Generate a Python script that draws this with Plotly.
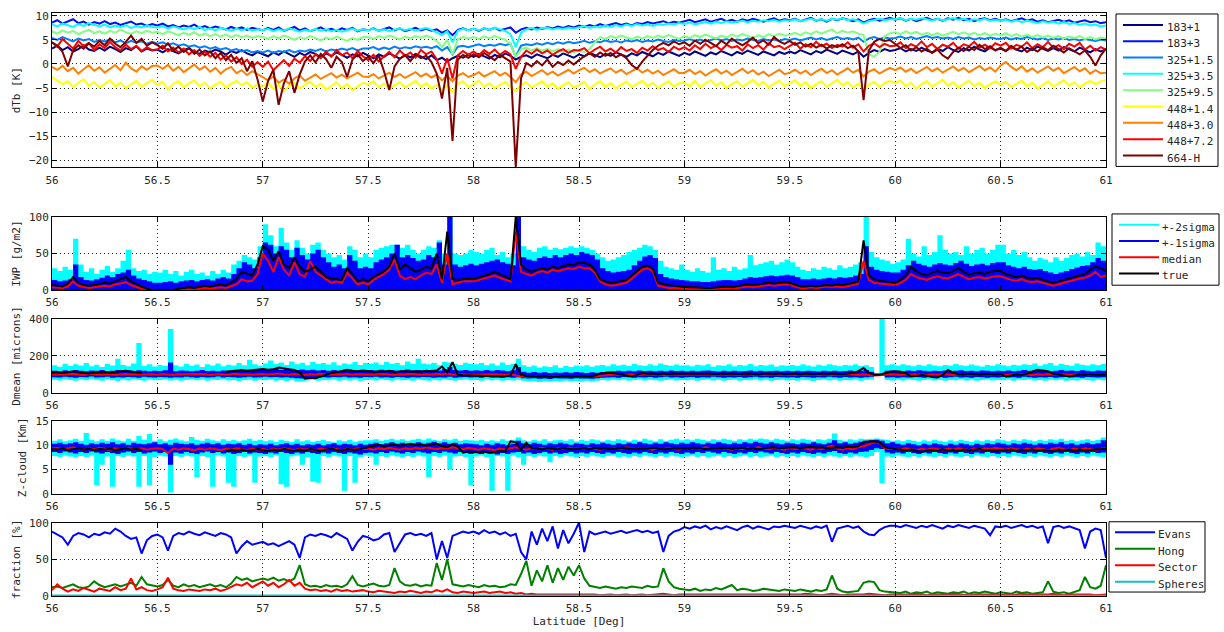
import numpy as np
import plotly.graph_objects as go

LAT_MIN, LAT_MAX = 56.0, 61.0
FONT = "DejaVu Sans Mono"

# ---------------- brightness temperature departures [K] ----------------
ch_names = ["183+1", "183+3", "325+1.5", "325+3.5", "325+9.5",
            "448+1.4", "448+3.0", "448+7.2", "664-H"]
ch_colors = ["#000080", "#0010FF", "#0080FF", "#00FFFF", "#80FF80",
             "#FFFF00", "#FF8000", "#FF0000", "#800000"]

dtb_183_1 = [
    3.2, 3.8, 2.9, 3.5, 2.6, 3.1, 3.9, 3.0, 2.7, 3.4, 2.8, 3.6, 3.1, 2.5, 3.3, 2.9, 3.7, 2.6, 3.2, 2.8,
    3.0, 2.4, 3.1, 2.7, 2.2, 2.9, 3.3, 2.5, 2.1, 2.8, 2.4, 3.0, 2.6, 1.9, 2.7, 2.3, 2.9, 2.2, 1.8, 2.5,
    2.1, 1.6, 2.4, 1.9, 2.6, 2.0, 1.5, 2.3, 1.8, 2.5, 2.1, 1.4, 2.2, 1.7, 2.4, 1.9, 1.3, 2.0, 1.6, 2.3,
    1.8, 1.2, 2.0, 1.5, 2.2, 1.6, 1.1, 1.9, 1.4, 2.1, 1.5, 1.0, 1.8, 0.8, 1.3, 0.5, 1.2, 1.7, 1.3, 2.0,
    1.5, 2.1, 1.6, 1.1, 1.9, 1.4, 2.2, 1.7, 0.9, 1.5, 1.8, 1.3, 2.0, 1.6, 1.2, 1.9, 1.5, 2.2, 1.7, 1.3,
    2.0, 1.6, 2.3, 1.8, 1.4, 2.1, 1.7, 2.4, 1.9, 1.5, 2.2, 1.8, 2.5, 2.0, 1.6, 2.3, 1.9, 2.6, 2.1, 1.7,
    2.3, 1.9, 2.6, 2.1, 1.7, 2.4, 2.0, 2.7, 2.2, 1.8, 2.5, 2.1, 2.8, 2.3, 1.9, 2.6, 2.2, 1.8, 2.5, 2.1,
    2.6, 2.2, 2.9, 2.4, 2.0, 2.7, 2.3, 3.0, 2.5, 2.1, 2.8, 2.4, 2.0, 2.6, 1.5, 2.3, 2.9, 2.5, 3.1, 2.7,
    2.9, 3.3, 2.6, 3.1, 2.7, 3.4, 2.8, 2.4, 3.2, 2.7, 3.5, 2.9, 2.5, 3.3, 2.8, 3.6, 3.0, 2.6, 3.4, 2.9,
    3.2, 2.7, 3.5, 3.0, 2.6, 3.4, 2.9, 3.6, 3.1, 2.7, 3.3, 2.8, 3.5, 3.0, 2.6, 3.4, 2.9, 2.4, 3.1, 2.6,
    3.0]
dtb_183_3 = [
    8.6, 9.1, 8.4, 8.9, 9.3, 8.5, 8.8, 8.2, 8.7, 8.4, 8.9, 8.3, 8.6, 8.1, 8.5, 8.8, 8.2, 8.4, 7.9, 8.3,
    8.0, 8.4, 7.8, 8.1, 7.6, 8.0, 7.7, 8.2, 7.5, 7.9, 7.4, 7.8, 7.5, 7.2, 7.7, 7.3, 7.6, 7.1, 7.5, 7.2,
    7.0, 7.5, 7.1, 7.6, 6.9, 7.3, 7.7, 7.0, 7.4, 6.8, 7.2, 7.6, 7.0, 7.3, 6.9, 7.4, 7.1, 7.5, 6.8, 7.2,
    7.0, 7.4, 6.9, 7.3, 7.6, 7.0, 7.4, 6.8, 7.2, 7.5, 7.0, 7.3, 6.9, 7.2, 6.5, 7.0, 6.0, 7.1, 7.4, 7.0,
    7.3, 6.9, 7.4, 7.1, 7.5, 7.0, 7.3, 7.6, 6.5, 7.2, 7.5, 7.2, 7.6, 7.3, 7.7, 7.4, 7.8, 7.5, 7.9, 7.6,
    8.0, 7.7, 8.1, 7.8, 8.3, 7.9, 8.2, 8.5, 8.1, 8.4, 8.0, 8.5, 8.3, 8.7, 8.4, 8.6, 8.9, 8.5, 8.8, 8.6,
    8.9, 9.2, 8.7, 9.0, 9.3, 8.8, 9.1, 9.4, 8.9, 9.2, 8.8, 9.3, 9.0, 9.4, 9.1, 8.8, 9.2, 9.5, 9.0, 9.3,
    9.1, 9.4, 8.9, 9.3, 9.6, 9.0, 9.3, 8.8, 9.4, 9.1, 9.5, 9.2, 8.9, 9.3, 8.6, 9.1, 9.4, 9.0, 9.3, 9.6,
    9.2, 9.5, 9.0, 9.4, 8.9, 9.3, 9.6, 9.1, 9.4, 9.0, 9.5, 9.2, 9.6, 9.1, 9.4, 8.9, 9.3, 9.5, 9.1, 9.4,
    9.0, 9.3, 8.9, 9.2, 9.5, 9.0, 9.3, 8.8, 9.1, 8.7, 9.0, 9.2, 8.8, 9.1, 8.6, 8.9, 9.1, 8.7, 8.9, 8.5,
    8.7]
dtb_325_1p5 = [
    5.4, 5.0, 5.6, 5.1, 4.7, 5.3, 4.9, 5.2, 4.6, 5.0, 4.7, 5.1, 4.5, 4.9, 4.3, 4.8, 4.4, 4.7, 4.2, 4.6,
    4.2, 4.5, 4.0, 4.3, 3.8, 4.1, 3.6, 3.9, 3.4, 3.7, 3.2, 3.5, 3.0, 3.3, 2.8, 3.1, 2.6, 2.9, 2.4, 2.7,
    2.4, 2.8, 2.3, 2.7, 2.5, 2.9, 2.4, 2.8, 2.6, 3.0, 2.7, 3.1, 2.6, 3.0, 2.8, 3.2, 2.9, 3.3, 2.8, 3.2,
    3.2, 3.5, 3.0, 3.4, 3.1, 3.6, 3.2, 3.5, 3.3, 3.7, 3.4, 3.6, 3.3, 3.7, 2.8, 3.5, 2.0, 3.6, 3.8, 3.5,
    3.8, 4.1, 3.7, 4.0, 3.8, 4.2, 3.9, 4.2, 1.5, 3.8, 4.1, 3.9, 4.3, 4.0, 4.4, 4.1, 4.5, 4.2, 4.6, 4.3,
    4.5, 4.8, 4.4, 4.7, 4.5, 4.9, 4.6, 4.8, 4.5, 4.9, 4.7, 5.0, 4.6, 4.9, 4.7, 5.1, 4.8, 4.6, 5.0, 4.8,
    4.9, 5.2, 4.8, 5.1, 4.7, 5.0, 5.3, 4.9, 5.2, 4.8, 5.1, 4.9, 5.3, 5.0, 4.8, 5.2, 4.9, 5.1, 4.8, 5.2,
    5.0, 5.3, 4.9, 5.2, 5.5, 5.1, 5.4, 5.0, 5.3, 5.6, 5.2, 5.4, 5.1, 5.5, 4.6, 5.3, 5.6, 5.2, 5.5, 5.3,
    5.4, 5.7, 5.3, 5.6, 5.2, 5.5, 5.8, 5.4, 5.6, 5.3, 5.5, 5.2, 5.6, 5.3, 5.5, 5.1, 5.4, 5.2, 5.5, 5.3,
    5.2, 5.5, 5.1, 5.4, 5.2, 5.6, 5.3, 5.1, 5.4, 5.0, 5.3, 5.1, 5.4, 5.0, 5.2, 4.9, 5.2, 5.0, 4.8, 5.1,
    4.9]
dtb_325_3p5 = [
    8.2, 7.8, 8.4, 8.0, 7.7, 8.3, 7.9, 8.5, 8.1, 7.8, 8.2, 7.6, 8.0, 7.7, 8.1, 7.5, 7.9, 7.6, 8.0, 7.7,
    7.6, 7.9, 7.4, 7.8, 7.5, 7.2, 7.6, 7.3, 7.7, 7.1, 7.4, 7.0, 7.5, 7.2, 6.9, 7.3, 7.0, 7.4, 6.9, 7.2,
    7.0, 7.3, 6.8, 7.2, 6.9, 7.4, 7.0, 6.7, 7.1, 6.8, 7.3, 6.9, 7.2, 6.8, 7.1, 6.7, 7.0, 7.3, 6.9, 7.2,
    7.0, 7.3, 6.9, 7.2, 6.8, 7.1, 7.4, 7.0, 7.3, 6.9, 7.2, 7.5, 7.1, 6.6, 6.0, 6.8, 4.5, 6.9, 7.3, 7.0,
    7.3, 7.0, 7.4, 7.1, 7.5, 7.2, 6.9, 6.2, 3.5, 6.5, 7.2, 7.5, 7.1, 7.4, 7.6, 7.2, 7.5, 7.3, 7.6, 7.4,
    7.6, 7.9, 7.5, 7.8, 7.6, 8.0, 7.7, 8.1, 7.8, 8.2, 7.9, 8.3, 8.0, 8.2, 7.9, 8.3, 8.1, 8.4, 8.2, 8.5,
    8.3, 8.6, 8.2, 8.5, 8.7, 8.4, 8.8, 8.5, 8.9, 8.6, 8.8, 9.0, 8.7, 9.0, 8.8, 9.1, 8.9, 9.2, 8.8, 9.1,
    9.0, 9.3, 8.9, 9.2, 9.4, 9.1, 9.3, 9.0, 9.4, 9.2, 9.5, 9.1, 9.3, 9.0, 8.4, 8.9, 9.2, 9.4, 9.1, 9.3,
    9.3, 9.5, 9.1, 9.4, 9.2, 9.5, 9.3, 9.0, 9.4, 9.1, 9.3, 9.5, 9.2, 9.4, 9.0, 9.3, 9.1, 9.4, 9.0, 9.2,
    9.0, 9.2, 8.8, 9.1, 8.7, 9.0, 8.8, 8.5, 8.9, 8.6, 8.8, 8.4, 8.7, 8.3, 8.5, 8.1, 8.4, 8.0, 8.2, 7.8,
    8.0]
dtb_325_9p5 = [
    6.8, 6.3, 7.0, 6.5, 6.9, 6.2, 6.7, 7.1, 6.4, 6.8, 6.3, 6.9, 6.5, 7.2, 6.6, 6.3, 6.8, 6.4, 6.9, 6.5,
    6.7, 6.2, 6.8, 6.4, 6.0, 6.5, 6.1, 6.6, 5.9, 6.3, 5.8, 6.2, 5.7, 6.1, 5.6, 6.0, 5.5, 5.9, 5.4, 5.8,
    5.6, 5.2, 5.8, 5.3, 5.9, 5.5, 5.0, 5.6, 5.2, 5.8, 5.4, 4.9, 5.5, 5.1, 5.7, 5.3, 4.8, 5.4, 5.0, 5.6,
    5.6, 5.2, 5.8, 5.4, 5.9, 5.5, 5.1, 5.7, 5.3, 5.8, 5.4, 5.9, 5.5, 4.8, 3.5, 5.0, 2.0, 5.2, 5.6, 5.3,
    5.6, 5.2, 5.7, 5.3, 5.8, 5.4, 5.0, 4.2, 1.5, 3.0, 3.4, 2.8, 3.3, 2.7, 3.2, 2.6, 3.1, 2.5, 3.0, 2.4,
    2.9, 2.5, 3.1, 4.5, 5.6, 5.2, 5.8, 5.4, 5.9, 5.5, 5.1, 5.7, 5.3, 5.8, 5.4, 5.9, 5.5, 6.0, 5.6, 5.2,
    5.8, 5.4, 6.0, 5.6, 6.1, 5.7, 5.3, 5.9, 5.5, 6.1, 5.7, 6.2, 5.8, 5.4, 6.0, 5.6, 6.2, 5.8, 6.3, 5.9,
    6.1, 6.5, 6.0, 6.6, 6.2, 6.8, 6.3, 6.7, 7.2, 6.4, 6.9, 6.5, 6.8, 6.3, 6.0, 2.0, 1.5, 2.5, 5.8, 6.4,
    6.6, 6.2, 6.8, 6.3, 6.7, 6.1, 6.5, 6.0, 6.4, 5.9, 6.3, 6.7, 6.2, 6.6, 6.1, 6.5, 6.0, 6.4, 5.9, 6.3,
    6.0, 6.4, 5.8, 6.2, 5.7, 6.1, 5.6, 6.0, 5.5, 5.9, 5.4, 5.8, 5.3, 5.7, 5.4, 5.8, 5.2, 5.6, 5.1, 5.5,
    5.3]
dtb_448_1p4 = [
    -2.7, -3.5, -4.2, -3.6, -4.8, -3.9, -3.2, -4.5, -3.8, -4.9, -4.1, -3.4, -4.6, -3.9, -5.0, -4.2, -3.5, -4.7, -4.0, -3.3,
    -4.4, -3.7, -5.3, -4.1, -3.6, -4.8, -4.0, -3.4, -4.6, -3.9, -5.1, -4.3, -3.7, -4.9, -4.1, -3.5, -4.4, -3.8, -4.9, -4.2,
    -4.7, -3.9, -5.2, -4.4, -5.6, -4.6, -3.9, -5.1, -4.3, -3.7, -4.8, -4.1, -5.3, -4.5, -3.8, -5.0, -4.2, -5.4, -4.6, -3.9,
    -4.3, -3.6, -4.8, -4.1, -5.2, -4.4, -3.8, -4.9, -4.2, -3.5, -4.7, -4.0, -5.1, -4.3, -5.5, -4.4, -5.8, -4.1, -3.6, -4.8,
    -4.2, -3.5, -4.7, -4.0, -5.0, -4.3, -3.7, -4.8, -5.6, -4.4, -3.8, -4.9, -4.2, -3.6, -4.7, -4.0, -5.2, -4.4, -3.8, -4.9,
    -4.4, -3.7, -5.3, -4.2, -3.6, -4.7, -4.0, -5.1, -4.3, -3.7, -4.8, -4.1, -3.5, -4.6, -3.9, -5.0, -4.2, -3.6, -4.7, -4.0,
    -3.9, -4.6, -3.5, -4.8, -4.0, -3.4, -4.5, -3.8, -5.0, -4.2, -3.6, -4.7, -4.0, -3.3, -4.4, -3.7, -4.9, -4.1, -3.5, -4.6,
    -4.0, -3.4, -4.5, -3.8, -5.0, -4.2, -3.6, -4.7, -4.0, -3.3, -4.4, -3.8, -4.9, -4.1, -5.3, -4.3, -3.7, -4.8, -4.0, -3.5,
    -4.0, -3.4, -4.6, -3.9, -5.1, -4.2, -3.6, -4.7, -4.0, -3.3, -4.5, -3.8, -4.9, -4.1, -3.5, -4.6, -3.9, -5.0, -4.2, -3.6,
    -4.3, -3.7, -4.8, -4.1, -3.5, -4.6, -3.9, -5.1, -4.3, -3.6, -4.7, -4.0, -3.4, -4.5, -3.8, -4.9, -4.1, -3.5, -4.2, -3.6,
    -3.3]
dtb_448_3p0 = [
    -0.6, -1.2, -0.4, -1.5, -0.8, -2.0, -1.1, -0.3, -1.4, -0.7, -1.8, -1.0, -0.2, -1.3, 0.3, -0.9, -1.6, -0.5, -1.2, -0.4,
    -0.3, -1.0, -0.2, -1.4, -0.6, -1.7, -0.9, -0.1, -1.2, -0.5, -1.6, -0.8, -2.0, -1.1, -0.6, -1.9, -1.3, -2.3, -1.5, -2.1,
    -2.7, -3.4, -2.6, -3.9, -3.2, -4.1, -3.0, -2.4, -3.5, -2.8, -2.2, -3.1, -2.5, -1.9, -2.8, -2.2, -3.0, -2.4, -1.8, -2.6,
    -2.7, -2.1, -3.0, -2.4, -1.8, -2.7, -2.1, -2.9, -2.3, -1.7, -2.6, -2.0, -2.8, -2.2, -3.4, -2.5, -3.6, -2.4, -1.9, -2.7,
    -2.3, -1.7, -2.6, -2.0, -1.5, -2.4, -1.8, -2.7, -3.8, -2.2, -1.6, -2.5, -1.9, -1.3, -2.2, -1.6, -2.4, -1.8, -1.2, -2.0,
    -1.3, -0.8, -1.7, -1.1, -2.0, -1.4, -0.9, -1.8, -1.2, -2.1, -1.5, -0.9, -1.8, -1.2, -2.0, -1.4, -2.3, -1.7, -1.1, -1.9,
    -1.8, -1.2, -2.1, -1.5, -2.4, -1.7, -1.1, -2.0, -1.4, -2.3, -1.6, -1.0, -1.9, -1.3, -2.2, -1.6, -2.5, -1.8, -1.2, -2.1,
    -1.8, -1.2, -2.0, -1.4, -2.3, -1.6, -1.0, -1.9, -1.3, -2.2, -1.5, -0.9, -1.8, -1.2, -2.6, -1.6, -1.1, -2.0, -1.4, -0.8,
    -1.3, -0.7, -1.6, -1.0, -1.9, -1.2, -0.6, -1.5, -0.9, -1.8, -1.1, -0.5, -1.4, -0.8, -1.7, -1.0, -0.4, -1.3, -0.7, -1.6,
    -0.3, 0.4, -0.6, -1.3, -0.5, -1.6, -0.9, -1.8, -1.1, -0.5, -1.4, -0.8, -1.9, -1.2, -0.6, -1.5, -0.9, -2.0, -1.3, -1.9,
    -1.8]
dtb_448_7p2 = [
    4.5, 3.6, 5.2, 4.1, 3.2, 4.8, 3.7, 4.4, 2.9, 4.1, 3.3, 4.6, 3.5, 2.8, 4.0, 3.1, 3.8, 2.7, 3.5, 2.9,
    3.0, 3.8, 2.6, 3.4, 2.4, 3.2, 2.0, 2.9, 1.7, 2.6, 1.5, 2.3, 0.9, 1.8, 0.5, 1.4, 0.0, 0.9, -0.6, 0.4,
    -0.6, 0.5, -1.3, -0.2, 0.8, -0.4, 1.1, 0.3, 1.6, 0.6, 2.0, 1.2, 2.6, 1.5, 2.9, 1.8, 2.4, 1.2, 2.7, 1.6,
    0.8, 1.9, 0.5, 1.6, 2.5, 1.4, 2.8, 1.7, 2.4, 1.3, 2.9, 2.0, 2.6, 1.0, -2.0, 1.2, -3.0, 1.8, 2.7, 1.9,
    2.6, 1.8, 2.9, 2.1, 3.0, 1.9, 2.7, 2.0, -1.0, 1.5, 2.8, 2.1, 3.0, 2.2, 2.8, 1.9, 2.6, 3.1, 2.3, 2.9,
    2.8, 3.3, 2.2, 3.0, 3.6, 2.6, 3.2, 2.4, 3.5, 2.7, 3.1, 2.3, 3.4, 2.8, 3.7, 2.9, 3.3, 2.5, 3.6, 3.0,
    3.5, 2.8, 3.9, 3.1, 4.2, 3.3, 3.8, 2.9, 4.0, 3.4, 3.7, 2.8, 4.1, 3.3, 3.9, 3.0, 4.3, 3.5, 3.8, 3.1,
    3.8, 4.4, 3.2, 4.1, 3.5, 4.6, 3.7, 4.2, 3.3, 4.0, 3.6, 4.5, 3.4, 4.1, 2.6, 3.8, 4.3, 3.5, 4.2, 3.7,
    3.8, 4.5, 3.3, 4.1, 3.6, 4.7, 3.5, 4.2, 3.1, 4.0, 3.6, 4.4, 3.2, 4.1, 3.7, 4.6, 3.4, 4.0, 3.3, 4.3,
    3.8, 4.4, 3.2, 4.0, 3.6, 4.5, 3.3, 4.1, 3.5, 4.6, 3.4, 3.9, 3.1, 4.2, 3.6, 4.4, 3.0, 3.8, 2.8, 3.5,
    3.0]
dtb_664_h = [
    4.5, 3.8, 2.5, -0.5, 2.8, 3.9, 3.2, 4.3, 3.6, 4.8, 3.9, 5.3, 4.2, 3.5, 4.6, 5.9, 4.4, 5.2, 3.8, 4.5,
    3.9, 3.2, 4.3, 2.8, 3.6, 2.5, 3.3, 2.1, 3.0, 1.8, 2.6, 1.2, 2.3, 0.8, 1.9, 0.2, 1.2, -1.5, 0.6, -3.2,
    -7.8, -3.5, -1.2, -8.5, -4.0, -1.5, -6.0, -2.2, 0.5, 1.8, 0.3, 2.1, 1.0, -0.8, 1.5, 0.4, -2.7, 0.9, 2.0, 0.6,
    1.5, 0.2, 1.8, -1.5, -5.4, -0.5, 1.1, 1.8, 0.6, 2.0, 1.2, 1.7, 0.4, -2.0, -7.2, -0.8, -16.0, 0.9, 1.9, 1.3,
    2.0, 1.4, 2.3, 1.6, 0.8, 1.9, 1.2, 0.5, -21.5, -3.0, 0.2, -0.5, 0.6, -0.3, 0.9, -0.6, 0.4, -0.2, 0.7, -0.1,
    0.8, 1.6, 2.2, 1.5, 2.4, 1.7, 2.3, 1.4, 2.0, 1.2, -0.2, -1.0, 0.5, 1.8, 2.9, 3.8, 4.4, 3.9, 4.7, 4.1,
    4.5, 3.8, 4.9, 4.2, 5.0, 4.4, 3.7, 4.8, 4.1, 5.3, 4.5, 3.9, 4.6, 5.5, 4.3, 4.9, 4.0, 5.6, 4.7, 4.2,
    4.8, 4.0, 4.5, 3.6, 4.2, 3.4, 4.0, 3.2, 3.9, 3.5, 4.1, 3.3, 3.8, 2.6, -7.5, 2.8, 4.6, 5.2, 4.8, 5.0,
    4.1, 3.3, 3.9, 2.8, 3.5, 2.6, 3.2, 2.3, 3.0, 1.8, 1.1, 2.5, 3.4, 2.7, 3.6, 2.9, 4.0, 3.1, 3.7, 2.8,
    3.4, 2.7, 3.8, 3.0, 3.6, 2.5, 3.2, 2.6, 3.5, 2.9, 3.8, 3.1, 2.4, 3.3, 2.6, 2.0, 2.8, 1.5, -0.3, 1.8,
    3.2]

# ---------------- ice water path [g/m2] ----------------
iwp_hi2 = [
    30, 26, 32, 28, 70, 35, 25, 30, 22, 28, 33, 25, 30, 40, 55, 30, 26, 28, 22, 25,
    24, 28, 22, 26, 20, 25, 28, 22, 24, 20, 26, 22, 28, 24, 35, 40, 48, 45, 42, 60,
    90, 75, 60, 85, 65, 55, 68, 58, 50, 62, 65, 55, 50, 45, 48, 42, 60, 55, 45, 50,
    45, 55, 58, 60, 62, 62, 58, 62, 55, 50, 55, 60, 58, 68, 50, 100, 50, 48, 50, 55,
    52, 50, 55, 58, 48, 52, 45, 50, 100, 60, 55, 52, 58, 60, 55, 58, 56, 58, 60, 58,
    60, 58, 55, 50, 45, 40, 42, 45, 48, 52, 55, 58, 62, 60, 55, 40, 32, 30, 28, 35,
    28, 25, 30, 26, 24, 45, 28, 30, 26, 32, 28, 30, 48, 34, 36, 38, 40, 35, 38, 42,
    38, 32, 28, 26, 30, 28, 32, 30, 28, 34, 30, 32, 35, 38, 100, 52, 45, 42, 40, 36,
    38, 42, 70, 50, 46, 60, 48, 52, 75, 55, 50, 52, 48, 60, 50, 55, 58, 50, 55, 62,
    62, 50, 55, 48, 52, 45, 40, 44, 42, 38, 45, 40, 44, 48, 50, 46, 52, 48, 65, 60,
    55]
iwp_hi1 = [
    14, 12, 13, 15, 35, 18, 14, 13, 15, 17, 20, 18, 22, 24, 28, 20, 16, 14, 12, 10,
    10, 11, 12, 10, 12, 13, 14, 12, 14, 15, 13, 16, 18, 16, 22, 30, 38, 35, 30, 45,
    65, 62, 50, 60, 55, 45, 58, 48, 42, 50, 55, 45, 38, 32, 35, 30, 48, 40, 30, 32,
    30, 38, 42, 45, 50, 62, 45, 48, 44, 40, 42, 48, 45, 65, 35, 100, 35, 32, 34, 36,
    34, 36, 38, 40, 42, 38, 36, 34, 100, 45, 42, 40, 44, 46, 44, 48, 45, 48, 50, 48,
    52, 50, 48, 42, 30, 26, 24, 25, 26, 28, 34, 40, 46, 48, 44, 22, 18, 16, 15, 14,
    13, 12, 12, 11, 11, 12, 13, 14, 14, 13, 14, 16, 18, 17, 18, 19, 20, 19, 20, 21,
    20, 18, 15, 15, 16, 15, 16, 17, 16, 18, 17, 18, 20, 22, 60, 32, 28, 26, 25, 24,
    24, 28, 34, 40, 36, 34, 32, 35, 37, 35, 34, 37, 40, 36, 33, 35, 36, 34, 37, 38,
    38, 34, 32, 30, 32, 29, 28, 29, 26, 24, 22, 24, 26, 29, 31, 33, 34, 38, 44, 40,
    36]
iwp_median = [
    4, 3, 3, 5, 12, 6, 4, 3, 4, 5, 6, 5, 8, 9, 11, 7, 4, 2, 1, 0,
    0, 0, 0, 0, 1, 1, 2, 1, 2, 3, 2, 3, 4, 3, 5, 8, 15, 12, 13, 22,
    50, 40, 25, 45, 28, 20, 38, 22, 18, 40, 25, 20, 14, 10, 12, 10, 24, 16, 8, 10,
    8, 14, 18, 22, 28, 42, 20, 15, 18, 15, 20, 24, 22, 35, 10, 50, 8, 10, 12, 12,
    12, 14, 16, 18, 20, 17, 14, 12, 80, 25, 22, 20, 24, 26, 24, 28, 26, 28, 30, 29,
    32, 30, 30, 24, 12, 8, 6, 7, 8, 10, 16, 22, 28, 30, 26, 6, 4, 3, 3, 2,
    2, 2, 2, 1, 1, 2, 2, 3, 3, 2, 3, 4, 5, 4, 5, 6, 7, 6, 7, 8,
    7, 5, 3, 3, 4, 3, 4, 5, 4, 5, 4, 5, 7, 9, 40, 14, 10, 9, 8, 7,
    7, 10, 14, 22, 18, 16, 14, 17, 19, 17, 16, 19, 22, 18, 15, 17, 18, 16, 18, 19,
    19, 16, 14, 13, 15, 12, 11, 12, 10, 8, 6, 8, 10, 13, 15, 16, 17, 20, 25, 18,
    20]
iwp_true = [
    7, 6, 5, 9, 18, 10, 7, 6, 7, 8, 10, 9, 12, 14, 18, 12, 8, 5, 2, 0,
    0, 0, 1, 0, 2, 3, 4, 3, 5, 6, 5, 7, 8, 6, 10, 15, 25, 22, 20, 35,
    60, 55, 40, 53, 35, 30, 45, 32, 25, 28, 32, 25, 18, 16, 15, 14, 30, 22, 12, 15,
    12, 18, 22, 26, 32, 50, 28, 35, 30, 25, 28, 32, 30, 50, 15, 80, 15, 14, 15, 16,
    15, 17, 20, 22, 25, 22, 18, 15, 100, 35, 28, 25, 28, 30, 28, 32, 30, 33, 35, 34,
    38, 37, 35, 28, 15, 12, 10, 11, 12, 14, 20, 26, 32, 33, 30, 10, 8, 7, 6, 5,
    5, 4, 4, 3, 3, 3, 4, 5, 5, 4, 5, 6, 8, 7, 8, 9, 10, 9, 10, 11,
    10, 8, 5, 5, 6, 5, 6, 7, 6, 8, 7, 8, 10, 12, 68, 20, 15, 13, 12, 10,
    10, 14, 20, 32, 26, 22, 20, 24, 26, 24, 23, 26, 30, 25, 21, 23, 24, 22, 25, 26,
    26, 22, 20, 18, 20, 17, 16, 17, 14, 12, 10, 12, 14, 17, 19, 21, 22, 28, 32, 30,
    26]

# ---------------- mean particle size [microns] ----------------
dm_lo2 = [
    72, 68, 75, 70, 66, 73, 69, 76, 71, 67, 74, 70, 65, 72, 68, 75, 71, 66, 73, 69,
    70, 74, 68, 72, 66, 71, 75, 69, 73, 67, 72, 70, 74, 68, 71, 65, 70, 73, 67, 72,
    69, 73, 67, 71, 65, 70, 62, 64, 68, 72, 66, 71, 69, 74, 67, 72, 68, 73, 66, 70,
    72, 68, 74, 70, 66, 73, 69, 71, 67, 74, 70, 66, 72, 68, 73, 70, 66, 71, 74, 69,
    70, 67, 73, 69, 72, 66, 71, 68, 72, 66, 62, 65, 60, 64, 61, 65, 62, 66, 63, 65,
    63, 66, 62, 67, 70, 68, 72, 69, 73, 67, 71, 74, 68, 72, 69, 66, 70, 73, 68, 71,
    69, 72, 67, 71, 74, 68, 72, 66, 70, 73, 67, 71, 69, 74, 68, 72, 66, 70, 73, 68,
    71, 67, 72, 69, 65, 70, 74, 68, 72, 66, 71, 69, 73, 67, 72, 75, 92, 92, 70, 68,
    72, 68, 73, 70, 66, 71, 74, 68, 72, 67, 71, 69, 74, 68, 72, 66, 70, 73, 68, 71,
    69, 73, 67, 72, 70, 74, 68, 71, 66, 72, 69, 73, 67, 71, 68, 74, 70, 66, 72, 69,
    70]
dm_hi2 = [
    150, 142, 158, 146, 155, 148, 162, 145, 153, 140, 157, 149, 185, 151, 144, 159, 270, 147, 155, 143,
    152, 146, 345, 150, 143, 158, 147, 154, 141, 156, 149, 160, 145, 153, 148, 162, 150, 180, 155, 147,
    160, 175, 158, 165, 152, 170, 155, 163, 150, 168, 157, 162, 154, 166, 150, 160, 155, 168, 152, 162,
    158, 165, 153, 168, 157, 162, 150, 170, 158, 185, 160, 155, 163, 150, 168, 165, 158, 152, 163, 157,
    155, 162, 150, 160, 148, 165, 152, 158, 185, 150, 142, 148, 138, 145, 140, 150, 137, 146, 141, 148,
    145, 150, 142, 148, 152, 145, 155, 148, 153, 146, 158, 150, 147, 155, 149, 160, 152, 146, 154, 148,
    150, 145, 153, 148, 156, 142, 150, 147, 155, 144, 152, 149, 157, 145, 151, 148, 154, 143, 150, 147,
    152, 146, 155, 149, 143, 153, 147, 156, 150, 144, 152, 148, 155, 146, 150, 140, 108, 420, 150, 155,
    148, 155, 150, 145, 153, 147, 156, 149, 144, 152, 148, 157, 150, 146, 154, 149, 143, 152, 147, 155,
    150, 145, 153, 148, 156, 151, 160, 147, 155, 162, 149, 158, 152, 147, 160, 153, 148, 156, 150, 157,
    152]
dm_lo1 = [
    86, 84, 88, 85, 83, 87, 85, 89, 84, 86, 88, 83, 86, 84, 87, 85, 83, 88, 86, 84,
    87, 85, 83, 86, 84, 88, 85, 83, 87, 84, 86, 89, 84, 87, 85, 83, 86, 88, 84, 86,
    88, 85, 87, 84, 86, 83, 80, 78, 82, 85, 83, 86, 84, 87, 85, 88, 84, 86, 83, 87,
    85, 88, 84, 86, 83, 87, 85, 82, 86, 84, 87, 85, 83, 86, 84, 88, 82, 85, 87, 84,
    86, 83, 87, 84, 86, 82, 85, 83, 85, 80, 78, 80, 77, 79, 76, 80, 78, 79, 77, 80,
    78, 79, 77, 80, 82, 84, 86, 83, 87, 85, 82, 86, 84, 87, 83, 85, 88, 84, 86, 83,
    85, 87, 83, 86, 84, 88, 85, 82, 86, 84, 87, 83, 85, 88, 84, 86, 83, 87, 85, 84,
    86, 83, 87, 85, 82, 86, 84, 88, 85, 83, 87, 84, 86, 83, 85, 88, 95, 95, 84, 86,
    83, 86, 84, 88, 85, 82, 86, 84, 87, 83, 85, 88, 84, 86, 83, 87, 85, 82, 86, 84,
    87, 84, 86, 83, 88, 85, 82, 86, 84, 87, 83, 85, 88, 84, 86, 83, 87, 85, 84, 86,
    85]
dm_hi1 = [
    120, 118, 123, 119, 125, 121, 117, 122, 120, 124, 118, 121, 125, 119, 122, 118, 123, 120, 117, 121,
    119, 123, 165, 118, 122, 121, 117, 120, 124, 119, 121, 118, 122, 120, 125, 119, 123, 121, 126, 124,
    128, 125, 130, 126, 132, 128, 124, 127, 123, 126, 122, 125, 121, 124, 120, 123, 126, 122, 125, 121,
    124, 121, 126, 122, 125, 120, 123, 127, 122, 125, 121, 124, 126, 122, 128, 140, 124, 122, 125, 121,
    123, 120, 124, 121, 125, 122, 119, 123, 140, 115, 110, 113, 109, 112, 108, 111, 109, 112, 110, 113,
    111, 108, 112, 110, 114, 116, 118, 121, 117, 120, 118, 122, 119, 121, 117, 120, 118, 122, 119, 121,
    118, 121, 117, 120, 122, 119, 116, 120, 118, 121, 117, 119, 122, 118, 120, 117, 119, 121, 118, 120,
    117, 120, 118, 121, 119, 116, 120, 118, 121, 117, 119, 122, 118, 120, 124, 115, 104, 104, 120, 122,
    121, 118, 122, 119, 123, 120, 117, 121, 119, 122, 118, 120, 123, 119, 121, 118, 122, 120, 117, 121,
    119, 122, 118, 121, 124, 120, 123, 119, 122, 118, 121, 124, 120, 122, 119, 123, 121, 118, 122, 120,
    121]
dm_median = [
    100, 102, 99, 101, 104, 100, 98, 101, 103, 99, 100, 102, 98, 101, 103, 100, 99, 102, 100, 101,
    99, 103, 100, 98, 101, 102, 99, 100, 103, 101, 98, 100, 102, 99, 101, 104, 100, 102, 99, 101,
    103, 100, 102, 105, 101, 99, 103, 100, 98, 102, 100, 104, 101, 99, 102, 100, 103, 99, 101, 100,
    102, 99, 101, 103, 100, 98, 102, 100, 104, 101, 99, 102, 100, 103, 101, 105, 99, 100, 102, 99,
    100, 98, 101, 99, 102, 100, 98, 101, 95, 90, 88, 91, 89, 90, 87, 92, 89, 90, 88, 91,
    89, 90, 87, 91, 94, 96, 98, 100, 97, 99, 101, 98, 100, 102, 99, 101, 98, 100, 102, 99,
    100, 98, 101, 99, 102, 100, 97, 101, 99, 102, 98, 100, 103, 99, 101, 98, 100, 102, 99, 101,
    100, 98, 102, 99, 101, 97, 100, 102, 98, 101, 99, 103, 100, 98, 101, 97, 95, 96, 99, 101,
    100, 98, 101, 99, 102, 100, 98, 101, 99, 103, 100, 98, 101, 99, 102, 100, 98, 101, 99, 102,
    100, 98, 101, 99, 102, 100, 98, 101, 99, 103, 100, 98, 101, 99, 102, 100, 98, 101, 99, 100,
    100]
dm_true = [
    110, 112, 108, 115, 118, 112, 108, 106, 110, 112, 114, 110, 116, 118, 120, 115, 112, 108, None, None,
    None, None, None, None, None, None, None, None, None, None, None, None, None, 115, 118, 122, 125, 120, 124, 128,
    130, 126, 128, 138, 132, 128, 125, 110, 78, 82, 80, 90, 100, 108, 112, 118, 125, 120, 118, 122,
    117, 115, 118, 116, 120, 114, 117, 119, 115, 118, 116, 120, 117, 122, 143, 112, 167, 99, 96, 95,
    92, 90, 91, 88, 90, 89, 91, 95, 156, 99, 92, 90, 88, 91, 89, 90, 88, 91, 89, 90,
    89, 91, 88, 95, 105, 108, 110, 106, 100, 95, 90, 98, 108, 104, 106, 102, 105, 103, 106, 104,
    104, 102, 105, 103, 106, 104, 101, 105, 103, 106, 102, 104, 105, 103, 101, 104, 106, 103, 105, 102,
    104, 106, 102, 105, 103, 101, 105, 103, 106, 104, 102, 105, 108, 118, 135, 110, 99, 99, 108, 115,
    117, 115, 108, 90, 92, 98, 94, 86, 84, 96, 125, 110, 102, 100, 104, 102, 99, 103, 101, 100,
    102, 90, 95, 100, 98, 104, 115, 125, 122, 118, 104, 100, 97, 90, 95, 100, 98, 102, 99, 101,
    99]

# ---------------- cloud altitude [km] ----------------
zc_lo2 = [
    7.8, 7.6, 7.9, 7.7, 7.5, 7.8, 7.6, 7.9, 1.8, 6.0, 7.7, 1.5, 7.8, 7.6, 7.9, 7.7, 1.5, 7.8, 1.8, 7.6,
    7.9, 7.7, 0.3, 7.8, 7.6, 7.9, 7.7, 3.5, 7.8, 7.6, 1.5, 7.9, 7.7, 2.3, 1.5, 7.8, 7.6, 7.9, 2.3, 7.7,
    7.8, 7.6, 7.9, 2.0, 1.5, 7.7, 7.9, 6.0, 7.6, 2.5, 2.3, 7.8, 7.6, 7.9, 7.7, 0.7, 7.8, 2.3, 7.6, 7.9,
    7.7, 6.0, 7.8, 7.6, 7.9, 7.7, 7.5, 7.8, 7.6, 7.9, 7.7, 3.5, 7.8, 7.6, 7.9, 5.0, 7.7, 7.8, 7.6, 1.8,
    7.7, 7.9, 7.6, 0.7, 7.8, 7.7, 0.7, 7.9, 7.6, 6.0, 7.8, 7.6, 7.9, 7.7, 6.5, 7.8, 7.6, 7.9, 7.7, 7.5,
    7.8, 7.6, 7.9, 7.7, 7.5, 7.8, 7.9, 7.6, 7.7, 7.5, 7.8, 7.6, 7.9, 7.7, 7.5, 7.8, 7.6, 7.9, 7.7, 7.5,
    7.7, 7.9, 7.6, 7.8, 7.5, 7.7, 7.9, 7.6, 7.8, 7.5, 7.7, 7.9, 7.6, 7.8, 7.5, 7.7, 7.9, 7.6, 7.8, 7.6,
    7.8, 7.6, 7.9, 7.7, 7.5, 7.8, 7.6, 7.9, 7.7, 7.5, 7.8, 7.6, 7.9, 7.7, 7.5, 7.8, 8.6, 2.2, 7.7, 7.5,
    7.9, 7.7, 7.6, 7.8, 7.5, 7.9, 7.7, 7.6, 7.8, 7.5, 7.9, 7.7, 7.6, 7.8, 7.5, 7.9, 7.7, 7.6, 7.8, 7.5,
    7.8, 7.6, 7.9, 7.7, 7.5, 7.8, 7.6, 7.9, 7.7, 7.5, 7.8, 7.6, 7.9, 7.7, 7.5, 7.8, 7.6, 7.9, 7.7, 7.5,
    7.8]
zc_hi2 = [
    10.9, 11.2, 10.8, 11.0, 11.3, 10.9, 12.5, 11.1, 10.8, 11.2, 10.9, 11.4, 11.0, 10.8, 11.3, 10.9, 11.9, 11.1, 12.3, 10.9,
    11.2, 10.8, 11.1, 11.4, 11.0, 10.8, 11.7, 11.1, 10.9, 11.3, 11.0, 10.8, 11.2, 10.9, 11.1, 10.8, 11.0, 11.3, 10.9, 11.1,
    10.8, 11.0, 10.7, 11.1, 10.9, 10.7, 11.2, 10.8, 11.0, 10.7, 10.9, 11.1, 10.8, 10.6, 11.0, 10.8, 11.1, 10.7, 10.9, 11.0,
    11.0, 11.2, 10.9, 11.1, 11.3, 11.0, 11.2, 10.9, 11.1, 11.3, 11.0, 11.4, 11.1, 10.9, 11.2, 11.0, 11.3, 10.9, 11.1, 11.0,
    10.9, 11.1, 10.8, 11.0, 10.8, 11.2, 10.9, 11.1, 11.6, 11.0, 10.8, 11.1, 10.9, 11.2, 10.8, 11.0, 11.1, 10.9, 11.2, 10.8,
    11.1, 10.9, 11.2, 11.0, 10.8, 11.1, 10.9, 11.2, 11.0, 10.8, 11.1, 10.9, 11.3, 11.0, 10.8, 11.2, 10.9, 11.1, 11.3, 11.0,
    11.2, 11.0, 11.3, 11.1, 10.9, 11.2, 11.0, 11.3, 11.1, 10.9, 11.2, 11.0, 11.3, 11.1, 11.4, 11.2, 11.0, 11.3, 11.1, 10.9,
    11.2, 11.0, 11.3, 11.1, 10.9, 11.2, 11.0, 11.3, 12.4, 11.1, 10.9, 11.2, 11.0, 11.3, 11.2, 11.3, 11.4, 11.2, 11.1, 10.9,
    11.0, 10.8, 11.1, 10.9, 10.7, 11.0, 10.8, 11.1, 10.9, 10.7, 11.0, 10.8, 11.1, 10.9, 10.7, 11.0, 10.8, 11.1, 10.9, 11.2,
    11.0, 10.8, 11.1, 10.9, 11.2, 11.0, 10.8, 11.1, 10.9, 11.2, 11.0, 11.3, 10.9, 11.1, 10.8, 11.0, 11.2, 10.9, 11.1, 11.6,
    11.2]
zc_lo1 = [
    8.6, 8.4, 8.7, 8.5, 8.3, 8.6, 8.4, 8.7, 8.5, 8.3, 8.6, 8.4, 8.2, 8.5, 8.7, 8.4, 8.6, 8.3, 8.5, 8.7,
    8.4, 8.6, 6.0, 8.5, 8.3, 8.6, 8.4, 8.2, 8.5, 8.7, 8.4, 8.6, 8.3, 8.5, 8.2, 8.4, 8.6, 8.3, 8.5, 8.4,
    8.2, 8.5, 8.3, 8.6, 8.4, 8.2, 8.5, 8.3, 8.6, 8.4, 8.2, 8.5, 8.3, 8.6, 8.4, 8.2, 8.5, 8.3, 8.1, 8.4,
    8.5, 8.3, 8.6, 8.4, 8.7, 8.5, 8.3, 8.6, 8.4, 8.7, 8.5, 8.3, 8.6, 8.4, 8.7, 8.5, 8.3, 8.6, 8.4, 8.2,
    8.4, 8.2, 8.5, 8.3, 8.1, 8.4, 8.2, 8.5, 8.6, 8.3, 8.5, 8.2, 8.4, 8.6, 8.3, 8.5, 8.2, 8.4, 8.6, 8.3,
    8.5, 8.3, 8.6, 8.4, 8.2, 8.5, 8.3, 8.6, 8.4, 8.2, 8.5, 8.3, 8.6, 8.4, 8.2, 8.5, 8.3, 8.6, 8.4, 8.2,
    8.5, 8.3, 8.6, 8.4, 8.7, 8.5, 8.3, 8.6, 8.4, 8.2, 8.5, 8.3, 8.6, 8.4, 8.7, 8.5, 8.3, 8.6, 8.4, 8.2,
    8.5, 8.3, 8.6, 8.4, 8.2, 8.5, 8.3, 8.6, 8.8, 8.4, 8.2, 8.5, 8.3, 8.6, 8.7, 9.0, 9.4, 9.2, 8.5, 8.3,
    8.5, 8.3, 8.6, 8.4, 8.2, 8.5, 8.3, 8.6, 8.4, 8.2, 8.5, 8.3, 8.6, 8.4, 8.2, 8.5, 8.3, 8.6, 8.4, 8.2,
    8.5, 8.3, 8.6, 8.4, 8.2, 8.5, 8.3, 8.6, 8.4, 8.2, 8.5, 8.3, 8.6, 8.4, 8.2, 8.5, 8.3, 8.6, 8.4, 8.5,
    8.4]
zc_hi1 = [
    10.3, 10.5, 10.2, 10.4, 10.6, 10.3, 10.1, 10.4, 10.2, 10.5, 10.3, 10.6, 10.2, 10.4, 10.1, 10.5, 10.3, 10.2, 10.4, 10.6,
    10.2, 10.4, 10.1, 10.5, 10.3, 10.2, 10.4, 10.1, 10.3, 10.5, 10.2, 10.4, 10.1, 10.3, 10.2, 10.4, 10.1, 10.3, 10.0, 10.2,
    10.1, 10.3, 10.0, 10.2, 10.4, 10.1, 10.3, 10.0, 10.2, 10.1, 10.3, 10.0, 10.2, 10.4, 10.1, 10.3, 10.2, 10.0, 10.3, 10.1,
    10.3, 10.5, 10.2, 10.4, 10.6, 10.3, 10.5, 10.2, 10.4, 10.6, 10.3, 10.5, 10.7, 10.4, 10.6, 10.3, 10.5, 10.2, 10.4, 10.3,
    10.2, 10.0, 10.3, 10.1, 10.4, 10.2, 10.0, 10.3, 10.9, 10.4, 10.2, 10.5, 10.3, 10.1, 10.4, 10.2, 10.5, 10.3, 10.1, 10.4,
    10.3, 10.1, 10.4, 10.2, 10.5, 10.3, 10.1, 10.4, 10.2, 10.5, 10.3, 10.6, 10.4, 10.2, 10.5, 10.3, 10.6, 10.4, 10.2, 10.5,
    10.3, 10.6, 10.4, 10.2, 10.5, 10.3, 10.6, 10.4, 10.2, 10.5, 10.3, 10.6, 10.4, 10.7, 10.5, 10.3, 10.6, 10.4, 10.2, 10.5,
    10.4, 10.2, 10.5, 10.3, 10.6, 10.4, 10.2, 10.5, 11.0, 10.4, 10.6, 10.3, 10.5, 10.7, 10.8, 11.0, 11.1, 10.9, 10.4, 10.6,
    10.3, 10.1, 10.4, 10.2, 10.0, 10.3, 10.1, 10.4, 10.2, 10.0, 10.3, 10.1, 10.4, 10.2, 10.0, 10.3, 10.1, 10.4, 10.2, 10.5,
    10.3, 10.1, 10.4, 10.2, 10.5, 10.3, 10.1, 10.4, 10.2, 10.5, 10.3, 10.6, 10.2, 10.4, 10.1, 10.3, 10.5, 10.2, 10.4, 11.0,
    10.5]
zc_median = [
    9.3, 9.5, 9.2, 9.4, 9.6, 9.3, 9.1, 9.4, 9.2, 9.5, 9.3, 9.1, 9.4, 9.2, 9.5, 9.3, 9.2, 9.4, 9.1, 9.3,
    9.4, 9.2, 8.4, 9.3, 9.1, 9.4, 9.2, 9.0, 9.3, 9.1, 9.4, 9.2, 9.0, 9.3, 9.1, 9.4, 9.2, 9.0, 9.3, 9.1,
    9.2, 9.0, 9.3, 9.1, 9.4, 9.2, 9.0, 9.3, 9.1, 9.2, 9.0, 9.3, 9.1, 9.4, 9.2, 9.0, 9.3, 9.1, 9.4, 9.2,
    9.3, 9.1, 9.4, 9.2, 9.5, 9.3, 9.1, 9.4, 9.2, 9.5, 9.3, 9.6, 9.4, 9.2, 9.5, 9.3, 9.6, 9.4, 9.2, 9.5,
    9.3, 9.1, 9.4, 9.2, 9.0, 9.3, 9.1, 9.4, 9.6, 9.3, 9.1, 9.4, 9.2, 9.5, 9.3, 9.1, 9.4, 9.2, 9.5, 9.3,
    9.4, 9.2, 9.5, 9.3, 9.1, 9.4, 9.2, 9.5, 9.3, 9.6, 9.4, 9.2, 9.5, 9.3, 9.1, 9.4, 9.2, 9.5, 9.3, 9.1,
    9.4, 9.2, 9.5, 9.3, 9.6, 9.4, 9.2, 9.5, 9.3, 9.1, 9.4, 9.2, 9.5, 9.3, 9.6, 9.4, 9.2, 9.5, 9.3, 9.1,
    9.4, 9.2, 9.5, 9.3, 9.1, 9.4, 9.2, 9.5, 9.9, 9.3, 9.1, 9.4, 9.2, 9.6, 9.8, 10.2, 10.6, 10.5, 9.4, 9.2,
    9.3, 9.1, 9.4, 9.2, 9.0, 9.3, 9.1, 9.4, 9.2, 9.0, 9.3, 9.1, 9.4, 9.2, 9.0, 9.3, 9.1, 9.4, 9.2, 9.5,
    9.3, 9.1, 9.4, 9.2, 9.0, 9.3, 9.1, 9.4, 9.2, 9.0, 9.3, 9.5, 9.2, 9.0, 9.3, 9.1, 9.4, 9.2, 9.0, 9.3,
    9.4]
zc_true = [
    9.2, 9.1, 9.3, 9.0, 9.2, 9.4, 9.1, 9.3, 9.0, 9.2, 9.1, 9.3, 9.0, 9.2, 9.4, 9.1, 9.2, 9.0, None, None,
    None, None, None, None, None, None, None, None, None, None, None, None, None, 8.8, 9.0, 8.9, 9.1, 8.8, 9.0, 9.2,
    9.0, 8.8, 9.1, 8.9, 9.2, 9.0, 8.8, 9.1, 8.9, 9.2, 9.0, 8.8, 9.1, 9.3, 9.0, 8.9, 9.2, 9.0, 9.1, 9.3,
    9.6, 9.9, 10.1, 9.8, 10.0, 10.2, 9.9, 10.1, 10.3, 10.0, 10.2, 9.9, 10.1, 10.3, 9.8, 9.6, 10.2, 9.7, 8.5, 8.7,
    8.6, 8.5, 8.7, 8.4, 8.6, 8.8, 8.7, 10.8, 10.6, 9.0, 10.5, 9.4, 9.3, 9.2, 9.4, 9.3, 9.2, 9.4, 9.3, 9.2,
    9.3, 9.4, 9.2, 9.5, 9.3, 9.4, 9.2, 9.3, 9.5, 9.4, 9.3, 9.2, 9.4, 9.3, 9.5, 9.4, 9.2, 9.3, 9.4, 9.3,
    9.4, 9.3, 9.5, 9.4, 9.2, 9.4, 9.3, 9.5, 9.4, 9.3, 9.4, 9.5, 9.3, 9.4, 9.2, 9.4, 9.5, 9.6, 9.4, 9.5,
    9.5, 9.6, 9.4, 9.5, 9.7, 9.5, 9.6, 9.4, 9.5, 9.6, 9.5, 9.7, 9.6, 9.8, 10.7, 10.8, 10.8, 10.6, 9.6, 9.4,
    9.2, 9.0, 8.9, 9.1, 8.8, 8.6, 8.9, 9.0, 8.8, 9.1, 8.9, 9.0, 8.8, 9.1, 8.9, 9.0, 9.2, 8.9, 9.0, 8.8,
    9.0, 8.9, 9.1, 8.8, 9.0, 8.9, 9.1, 8.8, 9.0, 8.9, 8.7, 9.1, 8.9, 9.0, 8.8, 9.1, 8.9, 9.0, 9.1, 9.2,
    9.3]

# ---------------- habit fractions [%] ----------------
frac_evans = [
    88, 84, 80, 70, 82, 86, 84, 80, 85, 83, 87, 85, 92, 88, 82, 78, 80, 58, 76, 82,
    84, 80, 62, 82, 86, 84, 88, 85, 83, 87, 85, 82, 86, 84, 80, 58, 68, 75, 70, 72,
    74, 70, 72, 68, 71, 75, 70, 52, 80, 84, 82, 85, 83, 80, 86, 82, 78, 62, 74, 82,
    80, 76, 78, 84, 86, 60, 72, 84, 86, 83, 85, 82, 86, 50, 75, 52, 82, 85, 88, 86,
    88, 85, 90, 86, 88, 84, 87, 82, 85, 60, 50, 88, 70, 92, 75, 95, 65, 90, 72, 85,
    100, 60, 88, 84, 86, 88, 85, 87, 89, 86, 88, 90, 87, 89, 86, 88, 60, 82, 88, 90,
    94, 92, 95, 93, 96, 91, 94, 92, 95, 93, 90, 94, 96, 92, 95, 93, 91, 95, 94, 96,
    95, 93, 96, 94, 92, 95, 93, 96, 74, 92, 94, 96, 93, 95, 88, 84, 83, 90, 94, 96,
    96, 94, 97, 95, 93, 96, 94, 97, 95, 92, 96, 94, 97, 95, 93, 96, 94, 92, 83, 95,
    94, 96, 93, 95, 97, 94, 96, 93, 95, 72, 94, 96, 93, 95, 92, 90, 65, 88, 92, 90,
    52]
frac_hong = [
    12, 13, 11, 14, 16, 12, 11, 13, 20, 15, 12, 14, 16, 13, 15, 18, 14, 26, 16, 14,
    13, 15, 22, 14, 12, 16, 13, 15, 12, 14, 16, 13, 15, 12, 17, 26, 22, 24, 20, 22,
    24, 22, 25, 21, 23, 20, 24, 42, 16, 13, 14, 12, 15, 13, 14, 12, 16, 27, 15, 13,
    15, 17, 14, 13, 15, 38, 20, 15, 14, 16, 13, 15, 14, 45, 22, 50, 16, 14, 13, 15,
    14, 12, 15, 13, 14, 12, 13, 16, 15, 30, 48, 14, 35, 20, 42, 18, 38, 22, 40, 28,
    42, 24, 14, 12, 11, 13, 12, 10, 12, 11, 13, 12, 11, 14, 12, 13, 38, 20, 12, 10,
    9, 8, 10, 7, 9, 8, 11, 9, 12, 15, 8, 10, 9, 7, 8, 10, 9, 8, 7, 9,
    8, 7, 9, 8, 6, 8, 7, 9, 28, 10, 6, 5, 6, 7, 18, 20, 19, 8, 6, 5,
    5, 4, 6, 3, 5, 4, 6, 3, 5, 4, 3, 5, 4, 6, 3, 5, 4, 6, 4, 3,
    5, 4, 3, 6, 4, 5, 3, 4, 5, 20, 6, 4, 5, 3, 6, 8, 26, 12, 10, 14,
    42]
frac_sector = [
    8, 16, 10, 6, 9, 7, 11, 8, 6, 10, 9, 7, 12, 8, 10, 24, 9, 12, 8, 7,
    9, 12, 25, 10, 8, 7, 9, 8, 7, 9, 8, 10, 7, 9, 12, 16, 14, 18, 12, 16,
    20, 14, 18, 12, 16, 22, 14, 18, 10, 8, 9, 7, 8, 6, 9, 7, 8, 6, 7, 8,
    6, 5, 7, 6, 5, 4, 6, 5, 7, 5, 4, 6, 5, 8, 6, 9, 5, 4, 6, 5,
    4, 5, 6, 4, 5, 6, 4, 5, 3, 4, 2, 3, 2, 2, 3, 2, 2, 3, 2, 2,
    2, 3, 2, 2, 1, 2, 2, 1, 2, 2, 1, 2, 2, 1, 2, 2, 3, 2, 1, 2,
    2, 1, 2, 2, 1, 2, 1, 2, 2, 1, 2, 2, 1, 2, 1, 2, 2, 1, 2, 2,
    2, 1, 2, 3, 2, 2, 1, 2, 3, 2, 1, 2, 2, 1, 2, 3, 2, 2, 1, 2,
    2, 1, 2, 2, 3, 2, 1, 2, 2, 1, 2, 3, 2, 2, 1, 2, 2, 3, 2, 1,
    2, 2, 1, 2, 3, 2, 2, 1, 2, 2, 3, 2, 1, 2, 2, 3, 2, 2, 1, 2,
    2]
frac_spheres = [0.6, 0.5, 0.6, 0.4, 0.5, 0.6, 0.5, 0.4, 0.5, 0.6, 0.5]

habit_names = ["Evans", "Hong", "Sector", "Spheres"]
habit_colors = ["#0000FF", "#008000", "#FF0000", "#19BFBF"]
stat_names = ["+-2sigma", "+-1sigma", "median", "true"]
CYAN, BLUE = "#00FFFF", "#0000FF"
stat_colors = [CYAN, BLUE, "#FF0000", "#000000"]


def lat(values):
    """Evenly spaced latitude grid spanning the track for a series."""
    return np.linspace(LAT_MIN, LAT_MAX, len(values))


fig = go.Figure()

# panel 1: channel departures
dtb_series = [dtb_183_1, dtb_183_3, dtb_325_1p5, dtb_325_3p5, dtb_325_9p5,
              dtb_448_1p4, dtb_448_3p0, dtb_448_7p2, dtb_664_h]
for name, vals, col in zip(ch_names, dtb_series, ch_colors):
    fig.add_trace(go.Scatter(x=lat(vals), y=vals, mode="lines", name=name,
                             line=dict(color=col, width=2), showlegend=False,
                             xaxis="x", yaxis="y"))


def add_band(lo, hi, color, name, xa, ya):
    """Stepped shaded interval between lo and hi (lo=None fills to zero)."""
    if lo is not None:
        fig.add_trace(go.Scatter(x=lat(lo), y=lo, mode="lines",
                                 line=dict(width=0, shape="hv", color=color),
                                 showlegend=False, hoverinfo="skip",
                                 xaxis=xa, yaxis=ya))
    fig.add_trace(go.Scatter(x=lat(hi), y=hi, mode="lines", name=name,
                             fill="tozeroy" if lo is None else "tonexty",
                             fillcolor=color,
                             line=dict(width=0, shape="hv", color=color),
                             showlegend=False, hoverinfo="skip",
                             xaxis=xa, yaxis=ya))


def add_lines(median, truth, xa, ya):
    fig.add_trace(go.Scatter(x=lat(median), y=median, mode="lines",
                             name="median", line=dict(color="#FF0000", width=2),
                             showlegend=False, xaxis=xa, yaxis=ya))
    fig.add_trace(go.Scatter(x=lat(truth), y=truth, mode="lines",
                             name="true", line=dict(color="#000000", width=2),
                             showlegend=False, xaxis=xa, yaxis=ya))


# panel 2: IWP
add_band(None, iwp_hi2, CYAN, "+-2sigma", "x2", "y2")
add_band(None, iwp_hi1, BLUE, "+-1sigma", "x2", "y2")
add_lines(iwp_median, iwp_true, "x2", "y2")

# panel 3: Dmean
add_band(dm_lo2, dm_hi2, CYAN, "+-2sigma", "x3", "y3")
add_band(dm_lo1, dm_hi1, BLUE, "+-1sigma", "x3", "y3")
add_lines(dm_median, dm_true, "x3", "y3")

# panel 4: cloud altitude
add_band(zc_lo2, zc_hi2, CYAN, "+-2sigma", "x4", "y4")
add_band(zc_lo1, zc_hi1, BLUE, "+-1sigma", "x4", "y4")
add_lines(zc_median, zc_true, "x4", "y4")

# panel 5: habit fractions
for name, vals, col in zip(habit_names,
                           [frac_evans, frac_hong, frac_sector, frac_spheres],
                           habit_colors):
    fig.add_trace(go.Scatter(x=lat(vals), y=vals, mode="lines", name=name,
                             line=dict(color=col, width=2), showlegend=False,
                             xaxis="x5", yaxis="y5"))

# ---------------- layout ----------------
W, H = 1224, 632
ML, MR, MT, MB = 52, 118, 7, 36
PW, PH = W - ML - MR, H - MT - MB


def px_x(X):
    return (X - ML) / PW


def px_y(Y):
    return (H - MB - Y) / PH


tick_font = dict(family=FONT, size=11, color="#262626")
axis_common = dict(showline=True, linecolor="black", linewidth=1,
                   mirror="allticks", ticks="inside", ticklen=5,
                   tickcolor="black", showgrid=True, gridcolor="#222222",
                   griddash="1px,3px", gridwidth=1, zeroline=False,
                   tickfont=tick_font)

panel_px = [(7, 163), (213, 287), (316, 391), (419, 493), (522, 596)]
y_titles = ["dTb [K]", "IWP [g/m2]", "Dmean [microns]", "Z-cloud [Km]",
            "fraction [%]"]
y_ranges = [[-21.5, 10.6], [0, 100], [0, 400], [0, 15], [0, 100]]
y_dticks = [5, 50, 200, 5, 50]

layout = dict(width=W, height=H,
              margin=dict(l=ML, r=MR, t=MT, b=MB),
              paper_bgcolor="white", plot_bgcolor="white",
              font=dict(family=FONT, size=11, color="#262626"),
              hovermode=False, showlegend=False)

for k in range(5):
    sfx = "" if k == 0 else str(k + 1)
    top, bot = panel_px[k]
    xa = dict(axis_common, domain=[0, 1], range=[LAT_MIN, LAT_MAX],
              dtick=0.5, tick0=56, anchor="y" + sfx, ticklabelstandoff=2)
    if k == 4:
        xa["title"] = dict(text="Latitude [Deg]",
                           font=dict(family=FONT, size=11), standoff=2)
    ya = dict(axis_common, domain=[px_y(bot), px_y(top)], range=y_ranges[k],
              dtick=y_dticks[k], anchor="x" + sfx,
              title=dict(text=y_titles[k], font=dict(family=FONT, size=11),
                         standoff=6))
    layout["xaxis" + sfx] = xa
    layout["yaxis" + sfx] = ya

# boxed legends: line sample followed by the series name
shapes, annotations = [], []


def draw_legend(names, colors, box, line_span, text_x, y_first, step):
    x0, y0, x1, y1 = box
    shapes.append(dict(type="rect", xref="paper", yref="paper",
                       x0=px_x(x0), x1=px_x(x1), y0=px_y(y1), y1=px_y(y0),
                       line=dict(color="black", width=1), fillcolor="white"))
    for i, (name, col) in enumerate(zip(names, colors)):
        y = y_first + i * step
        shapes.append(dict(type="line", xref="paper", yref="paper",
                           x0=px_x(line_span[0]), x1=px_x(line_span[1]),
                           y0=px_y(y), y1=px_y(y),
                           line=dict(color=col, width=2)))
        annotations.append(dict(xref="paper", yref="paper",
                                x=px_x(text_x), y=px_y(y + 2.5), text=name,
                                showarrow=False, xanchor="left",
                                yanchor="middle", borderpad=0,
                                font=dict(family=FONT, size=11,
                                          color="#262626")))


draw_legend(ch_names, ch_colors, (1116, 8, 1218, 162), (1123, 1163), 1166,
            19.0, 16.5)
draw_legend(stat_names, stat_colors, (1112, 210, 1219, 282), (1119, 1159),
            1161, 221.0, 16.4)
draw_legend(habit_names, habit_colors, (1109, 521, 1205, 592), (1115, 1155),
            1157, 531.5, 16.7)

layout["shapes"] = shapes
layout["annotations"] = annotations

fig.update_layout(**layout)
fig.write_html("out.html")
